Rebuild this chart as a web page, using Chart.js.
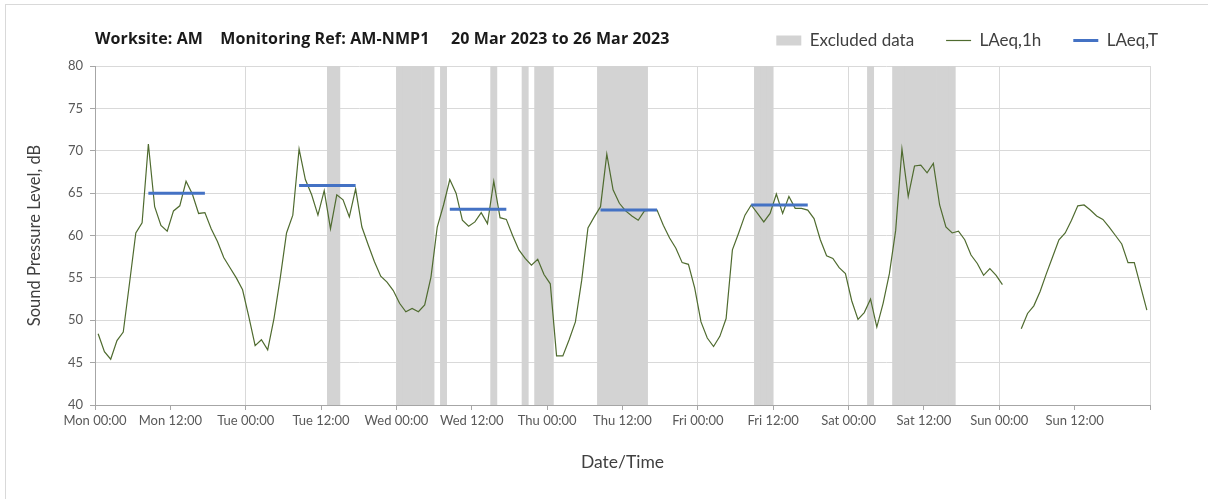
<!DOCTYPE html>
<html>
<head>
<meta charset="utf-8">
<title>AM-NMP1 noise monitoring</title>
<script src="https://cdn.jsdelivr.net/npm/chart.js@4.4.1/dist/chart.umd.min.js"></script>
<style>
  html, body { margin: 0; padding: 0; background: #fff; }
  #wrap { position: relative; width: 1208px; height: 499px; overflow: hidden; }
  #frame { position: absolute; left: 5px; top: 4px; width: 1240px; height: 540px; border: 1px solid #d9d9d9; box-sizing: border-box; pointer-events: none; }
  #heading { position: absolute; left: 95px; top: 27px; line-height: 20px; font: bold 16px "Open Sans", sans-serif; letter-spacing: 0.12px; color: #1a1a1a; white-space: pre; }
</style>
</head>
<body>
<div id="wrap">
  <div id="frame"></div>
  <div id="heading">Worksite: AM    Monitoring Ref: AM-NMP1     20 Mar 2023 to 26 Mar 2023</div>
  <canvas id="noiseChart"></canvas>
</div>
<script>
const dayNames = ['Mon', 'Tue', 'Wed', 'Thu', 'Fri', 'Sat', 'Sun'];

// LAeq,1h in dB, one value per hour from 00:00 to 23:00
const mon = [48.4, 46.3, 45.4, 47.6, 48.6, 54.4, 60.3, 61.5, 70.8, 63.4, 61.2, 60.5, 62.9, 63.5, 66.4, 64.9, 62.6, 62.7, 60.8, 59.3, 57.4, 56.2, 55.0, 53.6];
const tue = [50.4, 47.0, 47.7, 46.5, 50.2, 55.0, 60.3, 62.4, 70.2, 66.6, 64.8, 62.4, 65.3, 60.8, 64.8, 64.2, 62.2, 65.5, 61.0, 58.9, 56.9, 55.2, 54.5, 53.5];
const wed = [52.0, 51.0, 51.4, 51.0, 51.8, 55.1, 61.0, 63.6, 66.6, 65.0, 61.8, 61.1, 61.6, 62.7, 61.4, 66.4, 62.1, 61.9, 60.0, 58.3, 57.3, 56.5, 57.2, 55.4];
const thu = [54.3, 45.8, 45.8, 47.7, 49.8, 54.7, 60.9, 62.2, 63.4, 69.6, 65.4, 63.8, 62.9, 62.3, 61.8, 62.9, 63.0, 63.0, 61.2, 59.7, 58.5, 56.8, 56.6, 53.8];
const fri = [49.8, 47.9, 46.9, 48.1, 50.2, 58.3, 60.3, 62.4, 63.6, 62.6, 61.6, 62.6, 64.9, 62.6, 64.6, 63.2, 63.2, 63.0, 62.0, 59.5, 57.6, 57.3, 56.2, 55.5];
const sat = [52.3, 50.1, 50.9, 52.5, 49.2, 52.0, 55.5, 60.6, 70.2, 64.6, 68.2, 68.3, 67.4, 68.5, 63.6, 61.0, 60.3, 60.5, 59.5, 57.7, 56.7, 55.3, 56.1, 55.3];
const sun = [54.2, null, null, 49.0, 50.8, 51.7, 53.4, 55.5, 57.5, 59.5, 60.3, 61.8, 63.5, 63.6, 63.0, 62.3, 61.9, 61.0, 60.0, 59.0, 56.8, 56.8, 54.0, 51.2];

// LAeq,T over the working period, Mon to Fri
const laeqT = [65.0, 65.9, 63.1, 63.0, 63.6];
const periodStart = 8;   // hour index of first hour in period
const periodEnd = 17;    // hour index of last hour in period

// excluded hours, counted from Mon 00:00 (start inclusive, end exclusive)
const excludedFrom = [37, 48, 55, 63, 68, 70, 80, 105, 123, 127];
const excludedTo = [39, 54, 56, 64, 69, 73, 88, 108, 124, 137];

const yMin = 40;
const yMax = 80;
const weekHours = 168;

// each hourly value sits in the middle of its hour
const hourly = [mon, tue, wed, thu, fri, sat, sun].flat().map((v, i) => ({ x: i + 0.5, y: v }));

const periodLine = [];
laeqT.forEach((v, d) => {
    periodLine.push({ x: d * 24 + periodStart + 0.5, y: v });
    periodLine.push({ x: d * 24 + periodEnd + 0.5, y: v });
    periodLine.push({ x: d * 24 + periodEnd + 1, y: null });
});

const excludedBars = [];
excludedFrom.forEach((from, i) => {
    for (let h = from; h < excludedTo[i]; h++) {
        excludedBars.push({ x: h + 0.5, y: [yMin, yMax] });
    }
});

function tickLabel(value) {
    if (value >= weekHours) return '';
    const day = dayNames[Math.floor(value / 24)];
    return day + (value % 24 === 0 ? ' 00:00' : ' 12:00');
}

// push the plot down a little below the legend row
const legendGap = {
    id: 'legendGap',
    beforeInit(chart) {
        const fit = chart.legend.fit;
        chart.legend.fit = function () {
            fit.call(this);
            this.height += 7;
        };
    }
};

const axisFont = { family: 'Lato', size: 13 };

new Chart(document.getElementById('noiseChart'), {
    type: 'line',
    data: {
        datasets: [{
            type: 'bar',
            label: 'Excluded data',
            data: excludedBars,
            backgroundColor: '#d3d3d3',
            borderWidth: 0,
            barPercentage: 1,
            categoryPercentage: 1,
            pointStyle: 'rect',
            order: 2
        }, {
            label: 'LAeq,1h',
            data: hourly,
            borderColor: '#4f6b2f',
            borderWidth: 1.2,
            pointRadius: 0,
            pointStyle: 'line',
            spanGaps: false,
            order: 1
        }, {
            label: 'LAeq,T',
            data: periodLine,
            borderColor: '#4472c4',
            borderWidth: 3,
            pointRadius: 0,
            pointStyle: 'line',
            spanGaps: false,
            order: 0
        }]
    },
    options: {
        responsive: true,
        maintainAspectRatio: false,
        animation: false,
        layout: { padding: { top: 0, left: 0, right: 18, bottom: 0 } },
        scales: {
            x: {
                type: 'linear',
                min: 0,
                max: weekHours,
                offset: false,
                ticks: {
                    stepSize: 12,
                    maxTicksLimit: 20,
                    autoSkip: false,
                    maxRotation: 0,
                    padding: 3,
                    color: '#595959',
                    font: axisFont,
                    callback: v => tickLabel(v)
                },
                grid: {
                    offset: false,
                    color: c => (c.tick && c.tick.value % 24 === 0) ? '#d9d9d9' : 'rgba(0,0,0,0)',
                    tickColor: '#a6a6a6',
                    tickLength: 5
                },
                border: { color: '#a6a6a6' },
                title: {
                    display: true,
                    text: 'Date/Time',
                    color: '#404040',
                    font: { family: 'Lato', size: 17.5 },
                    padding: { top: 0, bottom: 26 }
                },
                afterFit: s => { s.height = 94; }
            },
            y: {
                min: yMin,
                max: yMax,
                ticks: { stepSize: 5, padding: 7, color: '#595959', font: axisFont },
                grid: { color: '#d9d9d9', tickColor: '#a6a6a6', tickLength: 5 },
                border: { color: '#a6a6a6' },
                title: {
                    display: true,
                    text: 'Sound Pressure Level, dB',
                    color: '#404040',
                    font: { family: 'Lato', size: 16.5 },
                    padding: { top: 25, bottom: 0 }
                },
                afterFit: s => { s.width = 95; }
            },
            yPad: {
                position: 'right',
                grid: { display: false },
                border: { display: false },
                ticks: { display: false },
                afterFit: s => { s.width = 40; }
            }
        },
        plugins: {
            legend: {
                position: 'top',
                align: 'end',
                labels: {
                    usePointStyle: true,
                    pointStyleWidth: 25,
                    boxHeight: 10,
                    padding: 32,
                    color: '#404040',
                    font: { family: 'Lato', size: 17 },
                    sort: (a, b) => a.datasetIndex - b.datasetIndex
                }
            },
            tooltip: { enabled: false }
        }
    },
    plugins: [legendGap]
});
</script>
</body>
</html>
